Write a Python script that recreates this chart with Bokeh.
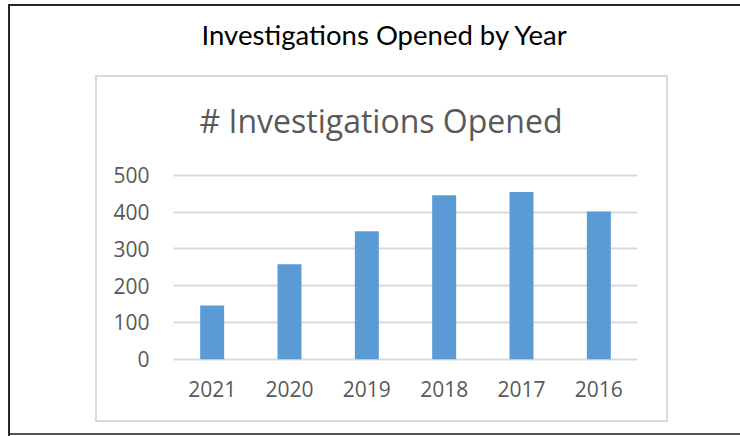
from bokeh.plotting import figure
from bokeh.models import ColumnDataSource, Range1d, FactorRange, Label, FixedTicker
from bokeh.embed import file_html
from bokeh.resources import INLINE

# ---- data ----
years = ["2021", "2020", "2019", "2018", "2017", "2016"]
counts = [146, 258, 348, 446, 455, 402]
y_ticks = [0, 100, 200, 300, 400, 500]
page_title = "Investigations Opened by Year"
chart_title = "# Investigations Opened"

W, H = 740, 436
src = ColumnDataSource(dict(year=years, count=counts))

# frame: x from 173 to 637 px, y from top of canvas down to 362 px
p = figure(width=W, height=H, x_range=FactorRange(*years), y_range=Range1d(-9, 976),
           output_backend="svg", toolbar_location=None,
           min_border_left=173, min_border_right=103, min_border_top=0, min_border_bottom=74)
p.outline_line_color = None
p.background_fill_color = None
p.border_fill_color = None

# boxes (outer page frame + light chart-area frame) drawn behind the transparent canvas
inner = "#d9d9d9"
outer = "#262626"
layers = [
    (inner, "96px 75px", "572px 2px"),
    (inner, "96px 420px", "572px 2px"),
    (inner, "95px 75px", "2px 347px"),
    (inner, "666px 75px", "2px 347px"),
    (outer, "8px 4px", "740px 2px"),
    (outer, "8px 4px", "2px 432px"),
    ("#555555", "8px 433px", "740px 2px"),
]
p.styles = {
    "background-image": ", ".join(f"linear-gradient({c}, {c})" for c, _, _ in layers),
    "background-position": ", ".join(pos for _, pos, _ in layers),
    "background-size": ", ".join(sz for _, _, sz in layers),
    "background-repeat": "no-repeat",
}

p.vbar(x="year", top="count", bottom=0, width=0.31, source=src,
       fill_color="#5b9bd5", line_color=None)

p.xgrid.grid_line_color = None
p.ygrid.grid_line_color = "#d9d9d9"
p.ygrid.grid_line_width = 2
p.yaxis.ticker = FixedTicker(ticks=y_ticks)
p.ygrid.ticker = FixedTicker(ticks=y_ticks)

for ax in (p.xaxis, p.yaxis):
    ax.axis_line_color = None
    ax.major_tick_line_color = None
    ax.minor_tick_line_color = None
    ax.major_label_text_font = "Open Sans"
    ax.major_label_text_font_size = "21px"
    ax.major_label_text_color = "#595959"
p.yaxis.major_label_standoff = 18
p.xaxis.major_label_standoff = 12

p.add_layout(Label(x=211.5, y=328, x_units="screen", y_units="screen", text=page_title,
                   text_align="center", text_baseline="alphabetic",
                   text_font="Lato", text_font_size="27.5px", text_color="black"))
p.add_layout(Label(x=207.5, y=242, x_units="screen", y_units="screen", text=chart_title,
                   text_align="center", text_baseline="alphabetic",
                   text_font="Open Sans", text_font_size="32px", text_color="#595959"))

open("out.html", "w").write(file_html(p, INLINE))
